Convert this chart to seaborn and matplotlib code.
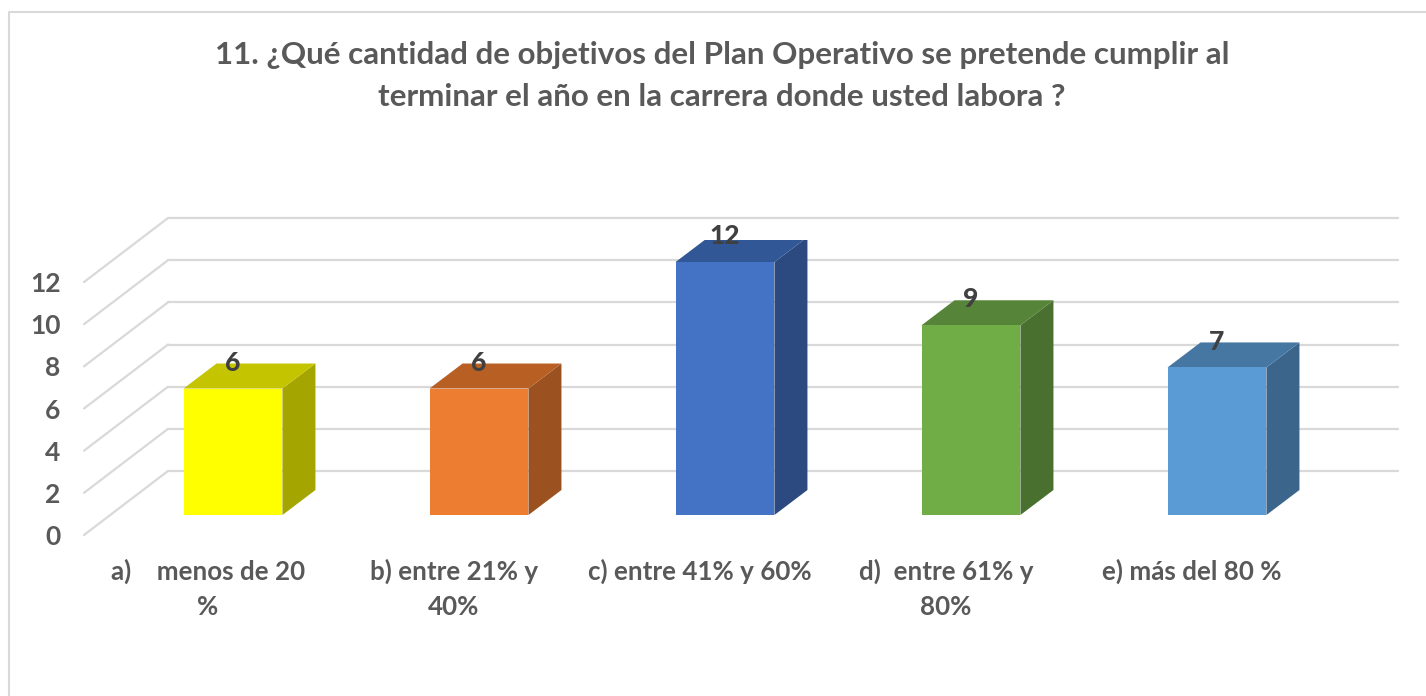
import seaborn as sns
import matplotlib.pyplot as plt
from matplotlib.lines import Line2D
from matplotlib.transforms import Affine2D, ScaledTranslation, blended_transform_factory

titulo = "11. ¿Qué cantidad de objetivos del Plan Operativo se pretende cumplir al\nterminar el año en la carrera donde usted labora ?"
categorias = ["a)    menos de 20\n%", "b) entre 21% y\n40%", "c) entre 41% y 60%", "d)  entre 61% y\n80%", "e) más del 80 %"]
valores = [6, 6, 12, 9, 7]
frente = ["#FFFF00", "#ED7D31", "#4472C4", "#70AD47", "#5B9BD5"]
lado = ["#A5A500", "#9B5120", "#2C4A80", "#49702E", "#3B658A"]
tapa = ["#C4C400", "#B86024", "#315796", "#56853A", "#4677A3"]
ticks_y = [0, 2, 4, 6, 8, 10, 12]

W, H = 1426, 696
sns.set_theme(style="white")
plt.rcParams['font.family'] = ['Lato', 'DejaVu Sans']

fig = plt.figure(figsize=(W / 100, H / 100), dpi=100)
# plano frontal de la pared: x 84-1314 px, y=0 en 535 px, 21.08 px por unidad
PX_Y = 21.08
ax = fig.add_axes([84 / W, (H - 535) / H, 1230 / W, 14 * PX_Y / H])

sns.barplot(x=categorias, y=valores, hue=categorias, palette=frente, legend=False,
            dodge=False, width=0.402, saturation=1, linewidth=0, ax=ax, zorder=3)
ax.set_xlim((233 - 84) / -246, (1314 - 233) / 246)
ax.set_ylim(0, 14)
sns.despine(ax=ax, left=True, bottom=True)

# paredes en falsa perspectiva
pared = blended_transform_factory(ax.transAxes, ax.transData)
fondo = pared + Affine2D().translate(84, 64)
for v in ticks_y:
    ax.plot([0, 1], [v, v], transform=fondo, color="#D9D9D9", lw=1.6, clip_on=False, zorder=1)
    y_px = ax.transData.transform((0, v))[1]
    ax.add_line(Line2D([84, 168], [y_px, y_px + 64], transform=Affine2D(),
                       color="#D9D9D9", lw=1.6, clip_on=False, zorder=1))

# caras laterales y superiores de cada barra
sube = 20 / PX_Y
prof_x = 33 / 246
prof_y = 25 / PX_Y
for i, cont in enumerate(ax.containers):
    for b in cont:
        b.set_transform(ax.transData + Affine2D().translate(0, 20))
        b.set_zorder(4)
        x0, x1 = b.get_x(), b.get_x() + b.get_width()
        h = b.get_height() + sube
        ax.fill([x1, x1 + prof_x, x1 + prof_x, x1], [sube, sube + prof_y, h + prof_y, h],
                color=lado[i], lw=0, zorder=3)
        ax.fill([x0, x0 + prof_x, x1 + prof_x, x1], [h, h + prof_y, h + prof_y, h],
                color=tapa[i], lw=0, zorder=3)
    for t in ax.bar_label(cont, padding=33, fontsize=19, fontweight="black", color="#404040", zorder=6):
        t.set_va("center")

ax.set_yticks(ticks_y)
ax.tick_params(axis="y", length=0, pad=17, labelsize=19, labelcolor="#595959")
ax.tick_params(axis="x", length=0, pad=17, labelsize=18.7, labelcolor="#595959")
for t in ax.get_yticklabels():
    t.set_fontweight("bold")
for t in ax.get_xticklabels():
    t.set_fontweight("bold")
    t.set_linespacing(1.53)
    t.set_transform(t.get_transform() + ScaledTranslation(-25 / 100, 0, fig.dpi_scale_trans))

fig.text(722 / W, 1 - 76 / H, titulo, ha="center", va="center", fontsize=22.6, fontweight="bold",
         color="#595959", linespacing=1.58)

# borde del grafico
fig.add_artist(Line2D([9 / W, 9 / W, 1], [0, 1 - 12 / H, 1 - 12 / H], color="#D9D9D9", lw=1.5))

fig.savefig("out.png", dpi=100)
